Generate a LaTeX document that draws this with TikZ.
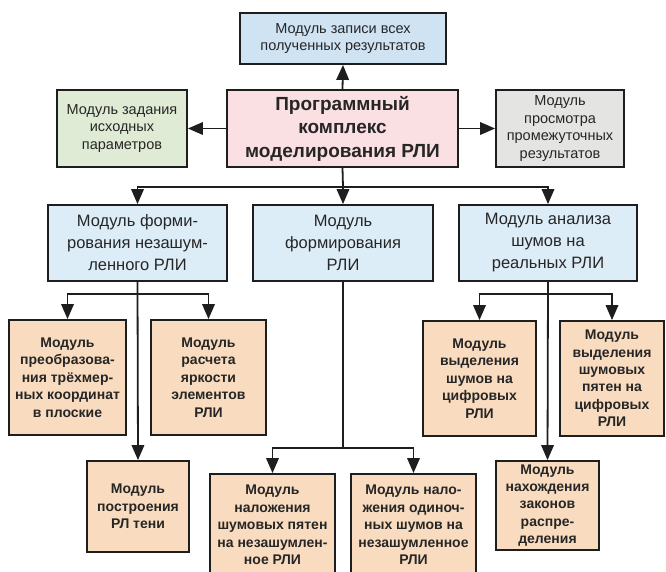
\documentclass[tikz,border=0pt]{standalone}
\usepackage{fontspec}
\setmainfont{Liberation Sans}
\usetikzlibrary{arrows.meta}
\definecolor{cTop}{HTML}{CFE3F3}
\definecolor{cMid}{HTML}{DDEDF8}
\definecolor{cGreen}{HTML}{E0EBD6}
\definecolor{cPink}{HTML}{FADFE3}
\definecolor{cGrey}{HTML}{E4E4E2}
\definecolor{cPeach}{HTML}{F9DCC0}
\definecolor{cLine}{HTML}{1E1E1E}
\tikzset{
  box/.style={draw=cLine, line width=1.8pt, inner sep=0pt, align=center, text=black!85},
  smallbox/.style={box, font=\fontsize{14.5}{17.5}\selectfont},
  mainbox/.style={box, fill=cPink, font=\bfseries\fontsize{19}{23.5}\selectfont},
  midbox/.style={box, fill=cMid, font=\fontsize{16.5}{22}\selectfont},
  lowbox/.style={box, fill=cPeach, font=\bfseries\fontsize{14}{17.4}\selectfont},
  arr/.style={draw=cLine, line width=1.8pt, -{Triangle[length=15pt,width=12.5pt]}},
  ln/.style={draw=cLine, line width=1.8pt}
}
\begin{document}
\begin{tikzpicture}[x=1pt,y=-1pt]
\useasboundingbox[fill=white] (0,0) rectangle (666,572);
% top level
\node[smallbox, fill=cTop, minimum width=206pt, minimum height=51pt] (top) at (343,38.5) {Модуль записи всех\\полученных результатов};
\node[mainbox, minimum width=231pt, minimum height=77pt] (main) at (342.5,128.5) {Программный\\комплекс\\моделирования РЛИ};
\node[smallbox, fill=cGreen, minimum width=130pt, minimum height=77pt] (green) at (122,128.5) {Модуль задания\\исходных\\параметров};
\node[smallbox, fill=cGrey, minimum width=128pt, minimum height=77pt] (grey) at (560,128.5) {Модуль\\просмотра\\промежуточных\\результатов};
% middle row
\node[midbox, minimum width=179pt, minimum height=76pt] (m1) at (137.5,243) {Модуль форми-\\рования незашум-\\ленного РЛИ};
\node[midbox, minimum width=180pt, minimum height=76pt] (m2) at (343,243) {Модуль\\формирования\\РЛИ};
\node[midbox, minimum width=178pt, minimum height=76pt] (m3) at (548,243) {Модуль анализа\\шумов на\\реальных РЛИ};
% lower boxes, left group
\node[lowbox, minimum width=117pt, minimum height=115pt] (l1) at (67.5,377.5) {Модуль\\преобразова-\\ния трёхмер-\\ных координат\\в плоские};
\node[lowbox, minimum width=115pt, minimum height=115pt] (l2) at (208.5,377.5) {Модуль\\расчета\\яркости\\элементов\\РЛИ};
\node[lowbox, minimum width=102pt, minimum height=91pt] (l3) at (138,506.5) {Модуль\\построения\\РЛ тени};
% centre group
\node[lowbox, minimum width=125pt, minimum height=102pt] (c1) at (272.5,525) {Модуль\\наложения\\шумовых пятен\\на незашумлен-\\ное РЛИ};
\node[lowbox, minimum width=125pt, minimum height=102pt] (c2) at (413.5,525) {Модуль нало-\\жения одиноч-\\ных шумов на\\незашумленное\\РЛИ};
% right group
\node[lowbox, minimum width=113pt, minimum height=115pt] (r1) at (479.5,378.5) {Модуль\\выделения\\шумов на\\цифровых\\РЛИ};
\node[lowbox, minimum width=104pt, minimum height=115pt] (r2) at (612,378.5) {Модуль\\выделения\\шумовых\\пятен на\\цифровых\\РЛИ};
\node[lowbox, minimum width=103pt, minimum height=89pt] (r3) at (547.5,505.5) {Модуль\\нахождения\\законов\\распре-\\деления};
% connectors top
\draw[arr] (main.north) -- (top.south);
\draw[arr] (main.west) -- (green.east);
\draw[arr] (main.east) -- (grey.west);
\coordinate (bus) at (343,187);
\draw[ln] (main.south) -- (bus);
\draw[arr] (bus) -| (m1.north);
\draw[arr] (bus) -- (m2.north);
\draw[arr] (bus) -| (m3.north);
% left group
\coordinate (lbus) at (138,294);
\draw[arr] (m1.south) -- (l3.north);
\draw[arr] (lbus) -| (l1.north);
\draw[arr] (lbus) -| (l2.north);
% centre group
\coordinate (cbus) at (343,448);
\draw[ln] (m2.south) -- (cbus);
\draw[arr] (cbus) -| (c1.north);
\draw[arr] (cbus) -| (c2.north);
% right group
\coordinate (rbus) at (548,294);
\draw[arr] (m3.south) -- (r3.north);
\draw[arr] (rbus) -| (r1.north);
\draw[arr] (rbus) -| (r2.north);
\end{tikzpicture}
\end{document}
